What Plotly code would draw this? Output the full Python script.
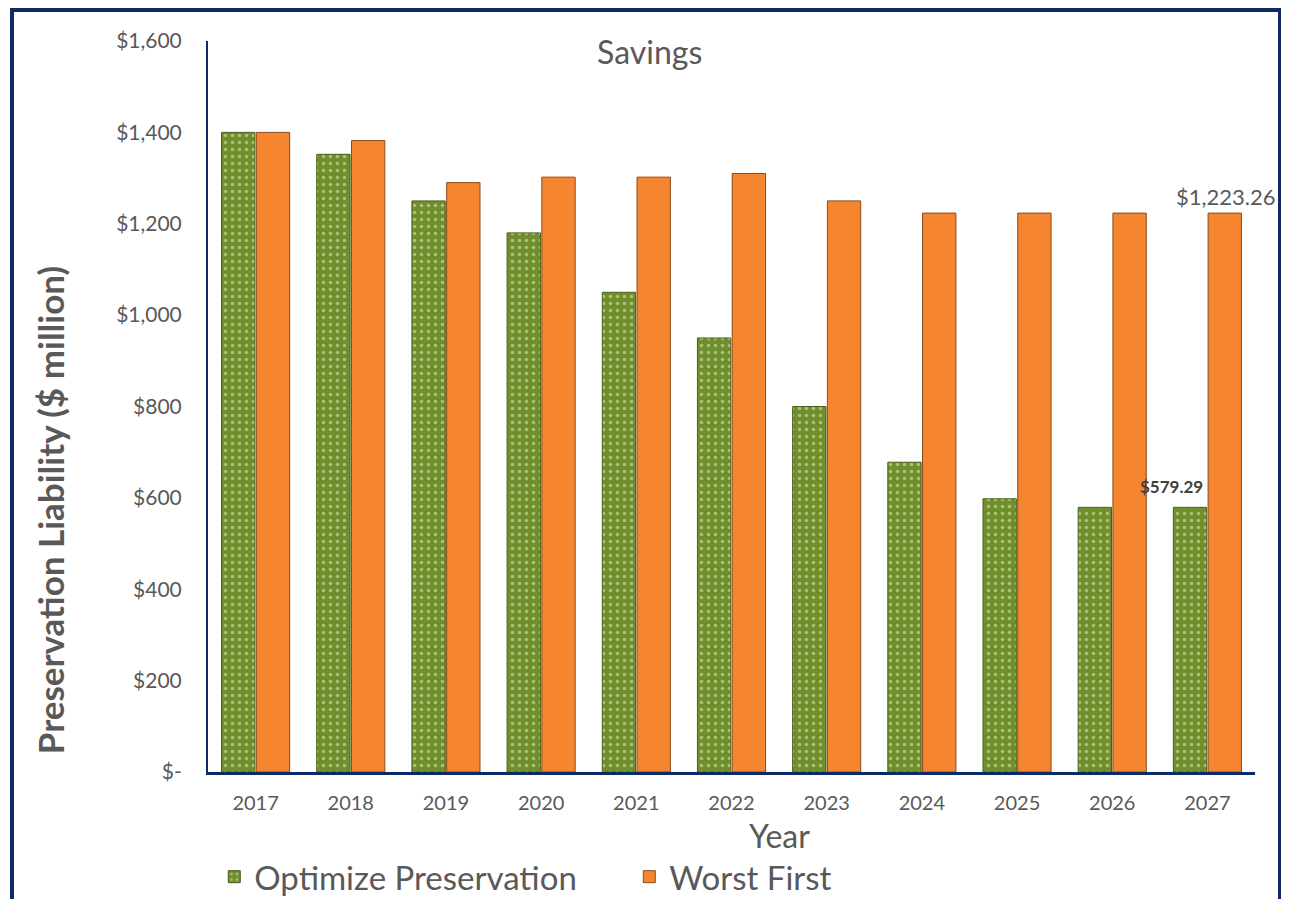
import plotly.graph_objects as go

years = ["2017", "2018", "2019", "2020", "2021", "2022", "2023", "2024", "2025", "2026", "2027"]
optimize = [1400, 1352, 1250, 1180, 1050, 950, 800, 678, 598, 579.29, 579.29]
worst_first = [1400, 1382, 1290, 1302, 1302, 1310, 1250, 1223.26, 1223.26, 1223.26, 1223.26]
y_ticks = [0, 200, 400, 600, 800, 1000, 1200, 1400, 1600]
y_tick_labels = ["$-", "$200", "$400", "$600", "$800", "$1,000", "$1,200", "$1,400", "$1,600"]

FONT = "Lato"
GREY = "#595959"
NAVY = "#0b2a66"

fig = go.Figure()
fig.add_trace(go.Bar(x=years, y=optimize, name="Optimize Preservation",
                     marker=dict(color="#6f8f2b",
                                 line=dict(color="#4a5e1c", width=1),
                                 pattern=dict(shape=".", fgcolor="#e8f0d8", bgcolor="#6f8f2b",
                                              size=7, solidity=0.2))))
fig.add_trace(go.Bar(x=years, y=worst_first, name="Worst First",
                     marker=dict(color="#f5852f", line=dict(color="#8a4a1a", width=1))))

# page body adds an 8px offset, so the figure is drawn smaller to avoid scrollbars
fig.update_layout(
    width=1273, height=891,
    margin=dict(l=200, r=26, t=33, b=127),
    plot_bgcolor="white", paper_bgcolor="white",
    barmode="group", bargap=0.27, bargroupgap=0.04,
    font=dict(family=FONT, color=GREY),
    showlegend=True,
    legend=dict(orientation="h", xref="paper", x=0.006, xanchor="left",
                yref="container", y=0.025, yanchor="middle",
                entrywidth=370, entrywidthmode="pixels",
                font=dict(size=33, color=GREY)),
)
fig.update_xaxes(type="category", range=[-0.5, len(years) - 0.5], showline=True,
                 linecolor=NAVY, linewidth=3, showgrid=False, automargin=False,
                 tickfont=dict(size=20, color=GREY), ticklabelstandoff=11)
fig.update_yaxes(range=[0, 1600], showline=True, linecolor=NAVY, linewidth=2, showgrid=False,
                 zeroline=False, tickvals=y_ticks, ticktext=y_tick_labels, automargin=False,
                 tickfont=dict(size=21, color=GREY), ticklabelstandoff=20)

# value labels on the last year (x given as category index)
last = len(years) - 1
fig.add_annotation(x=last, y=optimize[-1], text="<b>${:,.2f}</b>".format(optimize[-1]),
                   xshift=-36, yshift=8, yanchor="bottom", showarrow=False,
                   font=dict(size=17, color="#404040"))
fig.add_annotation(x=last, y=worst_first[-1], text="${:,.2f}".format(worst_first[-1]),
                   xshift=19, yshift=1, yanchor="bottom", showarrow=False,
                   font=dict(size=22, color=GREY))

fig.add_annotation(text="Savings", xref="paper", yref="paper", x=0.422, y=0.985,
                   xanchor="center", yanchor="middle", showarrow=False,
                   font=dict(size=32, color=GREY))
fig.add_annotation(text="Year", xref="paper", yref="paper", x=0.546, y=-0.087,
                   xanchor="center", yanchor="middle", showarrow=False,
                   font=dict(size=32, color=GREY))
fig.add_annotation(text="<b>Preservation Liability ($ million)</b>", xref="paper", yref="paper",
                   x=-0.151, y=0.358, xanchor="center", yanchor="middle", textangle=-90,
                   showarrow=False, font=dict(size=35, color=GREY))

# outer frame
fig.add_shape(type="rect", xref="paper", yref="paper",
              x0=(4 - 200) / 1047, x1=(1272 - 200) / 1047,
              y0=(764 - 905) / 731, y1=(764 - 2) / 731,
              line=dict(color=NAVY, width=4), fillcolor="rgba(0,0,0,0)")

fig.write_html("out.html")
